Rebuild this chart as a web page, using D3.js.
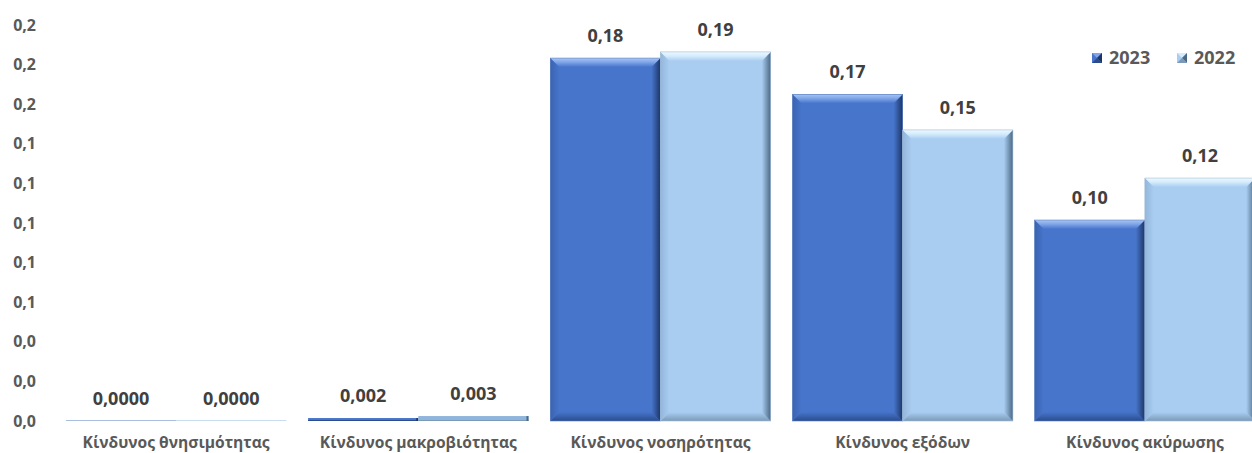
<!DOCTYPE html>
<html><head><meta charset="utf-8">
<script src="https://cdn.jsdelivr.net/npm/d3@7"></script>
<style>
html,body{margin:0;padding:0;background:#fff;}
svg{display:block;font-family:"Open Sans",sans-serif;}
</style></head>
<body>
<svg id="chart" width="1252" height="453"></svg>
<script>
const categories = ["Κίνδυνος θνησιμότητας","Κίνδυνος μακροβιότητας","Κίνδυνος νοσηρότητας","Κίνδυνος εξόδων","Κίνδυνος ακύρωσης"];
const series = ["2023","2022"];
const values2023 = [0.0000, 0.0015, 0.1833, 0.1650, 0.1015];
const values2022 = [0.0000, 0.0025, 0.1864, 0.1470, 0.1227];
const labelDecimals = [4, 3, 2, 2, 2];
const yTicks = [0, 0.02, 0.04, 0.06, 0.08, 0.10, 0.12, 0.14, 0.16, 0.18, 0.20];

const FONT = "'Open Sans',sans-serif";
const svg = d3.select("#chart");
const colors = {
  "2023": {face:"#4775CB", top:"#7FA6E8", topEdge:"#A9C6F2", left:"#3B63B0", right:"#1C3566", bottom:"#2A4C8E"},
  "2022": {face:"#A9CDF1", top:"#D4ECFC", topEdge:"#EEF8FF", left:"#93B6DA", right:"#4C6884", bottom:"#7C9AB8"}
};

const defs = svg.append("defs");
series.forEach(s => {
  const c = colors[s];
  const gt = defs.append("linearGradient").attr("id","top"+s).attr("x1",0).attr("y1",0).attr("x2",0).attr("y2",1);
  gt.append("stop").attr("offset","0%").attr("stop-color",c.topEdge);
  gt.append("stop").attr("offset","45%").attr("stop-color",c.top);
  gt.append("stop").attr("offset","100%").attr("stop-color",c.face);
  const gr = defs.append("linearGradient").attr("id","right"+s).attr("x1",0).attr("y1",0).attr("x2",1).attr("y2",0);
  gr.append("stop").attr("offset","0%").attr("stop-color",c.face);
  gr.append("stop").attr("offset","100%").attr("stop-color",c.right);
  const gb = defs.append("linearGradient").attr("id","bottom"+s).attr("x1",0).attr("y1",0).attr("x2",0).attr("y2",1);
  gb.append("stop").attr("offset","0%").attr("stop-color",c.face);
  gb.append("stop").attr("offset","100%").attr("stop-color",c.bottom);
  const gl = defs.append("linearGradient").attr("id","left"+s).attr("x1",0).attr("y1",0).attr("x2",1).attr("y2",0);
  gl.append("stop").attr("offset","0%").attr("stop-color",c.left);
  gl.append("stop").attr("offset","100%").attr("stop-color",c.face);
});

const x0 = d3.scaleBand().domain(categories).range([55, 1266]).paddingInner(0.09).paddingOuter(0.045);
const x1 = d3.scaleBand().domain(series).range([0, x0.bandwidth()]).padding(0);
const y = d3.scaleLinear().domain([0, 0.2]).range([421, 25]);

// Y axis labels
const yAxis = d3.axisLeft(y).tickValues(yTicks).tickSize(0).tickPadding(0)
  .tickFormat(d => d3.format(".1f")(d).replace(".", ","));
const ya = svg.append("g").attr("transform","translate(36,0)").call(yAxis);
ya.select(".domain").remove();
ya.selectAll("text").attr("font-family",FONT).attr("font-size",16).attr("font-weight","bold").attr("fill","#595959");

// X axis labels
const xAxis = d3.axisBottom(x0).tickSize(0).tickPadding(0);
const xa = svg.append("g").attr("transform","translate(0,448)").call(xAxis);
xa.select(".domain").remove();
xa.selectAll("text").attr("dy",0).attr("font-family",FONT).attr("font-size",15.6).attr("font-weight","bold").attr("fill","#595959");

const data = [];
categories.forEach((cat, i) => {
  data.push({cat, s:"2023", v:values2023[i], dec:labelDecimals[i]});
  data.push({cat, s:"2022", v:values2022[i], dec:labelDecimals[i]});
});

const bars = svg.append("g").selectAll("g.bar").data(data).join("g").attr("class","bar");
bars.each(function(d){
  const g = d3.select(this);
  const bx = x0(d.cat) + x1(d.s), bw = x1.bandwidth();
  const by = y(d.v), bh = y(0) - y(d.v);
  const c = colors[d.s];
  if (bh < 1.5) {
    g.append("rect").attr("x",bx).attr("y",y(0)-1).attr("width",bw).attr("height",1)
      .attr("fill", d.s === "2023" ? "#A9BEDF" : "#C9DDF1");
    return;
  }
  if (bh < 8) {
    g.append("rect").attr("x",bx).attr("y",by).attr("width",bw).attr("height",bh).attr("fill", d.s==="2023" ? c.face : "#8FB5DC");
    g.append("rect").attr("x",bx).attr("y",by+bh-1).attr("width",bw).attr("height",1).attr("fill",c.bottom);
    g.append("rect").attr("x",bx+bw-2).attr("y",by).attr("width",2).attr("height",bh).attr("fill",c.right);
    return;
  }
  const b = Math.min(9, bh/2, bw/2);
  const X = bx, Y = by, W = bw, H = bh;
  g.append("rect").attr("x",X).attr("y",Y).attr("width",W).attr("height",H).attr("fill",c.face);
  g.append("polygon").attr("points",[[X,Y+H],[X+b,Y+H-b],[X+W-b,Y+H-b],[X+W,Y+H]].join(" ")).attr("fill","url(#bottom"+d.s+")");
  g.append("polygon").attr("points",[[X,Y],[X+b,Y+b],[X+b,Y+H-b],[X,Y+H]].join(" ")).attr("fill","url(#left"+d.s+")");
  g.append("polygon").attr("points",[[X+W,Y],[X+W,Y+H],[X+W-b,Y+H-b],[X+W-b,Y+b]].join(" ")).attr("fill","url(#right"+d.s+")");
  g.append("polygon").attr("points",[[X,Y],[X+W,Y],[X+W-b,Y+b],[X+b,Y+b]].join(" ")).attr("fill","url(#top"+d.s+")");
  g.append("rect").attr("x",X).attr("y",Y).attr("width",W).attr("height",H).attr("fill","none")
    .attr("stroke", d.s==="2023" ? "#5B7FC0" : "#9FBAD6").attr("stroke-width",0.6);
});

// value labels
svg.append("g").selectAll("text").data(data).join("text")
  .attr("x", d => x0(d.cat) + x1(d.s) + x1.bandwidth()/2)
  .attr("y", d => y(d.v) - 16)
  .attr("text-anchor","middle")
  .attr("font-family",FONT).attr("font-size",18).attr("font-weight","bold").attr("fill","#404040")
  .text(d => d3.format("." + d.dec + "f")(d.v).replace(".", ","));

// legend
const legend = svg.append("g");
const legX = [1092, 1177];
series.forEach((s, i) => {
  const c = colors[s];
  const lx = legX[i], ly = 53, sz = 10;
  const lg = legend.append("g");
  lg.append("rect").attr("x",lx).attr("y",ly).attr("width",sz).attr("height",sz).attr("fill",c.face);
  lg.append("polygon").attr("points",[[lx,ly],[lx+sz,ly],[lx+sz/2,ly+sz/2]].join(" ")).attr("fill",c.top);
  lg.append("polygon").attr("points",[[lx+sz,ly],[lx+sz,ly+sz],[lx+sz/2,ly+sz/2]].join(" ")).attr("fill",c.right);
  lg.append("polygon").attr("points",[[lx,ly+sz],[lx+sz,ly+sz],[lx+sz/2,ly+sz/2]].join(" ")).attr("fill",c.bottom);
  lg.append("text").attr("x",lx+17).attr("y",ly+sz/2).attr("dy","0.36em")
    .attr("font-family",FONT).attr("font-size",18).attr("font-weight","bold").attr("fill","#595959").text(s);
});
</script>
</body></html>
